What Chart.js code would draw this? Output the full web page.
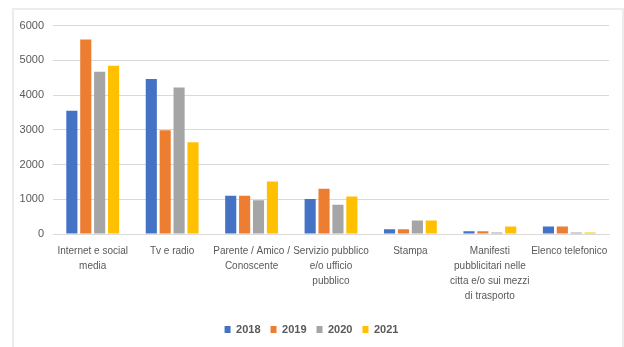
<!DOCTYPE html>
<html lang="it">
<head>
    <meta charset="UTF-8">
    <title>Canali di informazione 2018-2021</title>
    <style>
        body {
            margin: 0;
            background: #fff;
        }
        .chart-box {
            position: absolute;
            left: 12px;
            top: 8px;
            width: 608px;
            height: 345px;
            border: 2px solid #ececec;
        }
    </style>
</head>
<body>
    <div class="chart-box">
        <canvas id="myChart"></canvas>
    </div>

    <script src="https://cdn.jsdelivr.net/npm/chart.js@4.4.0/dist/chart.umd.min.js"></script>
    <script>
        // categorie (etichette su più righe come nel grafico originale)
        const categorie = [
            ['Internet e social', 'media'],
            'Tv e radio',
            ['Parente / Amico /', 'Conoscente'],
            ['Servizio pubblico', 'e/o ufficio', 'pubblico'],
            'Stampa',
            ['Manifesti', 'pubblicitari nelle', 'citta e/o sui mezzi', 'di trasporto'],
            'Elenco telefonico'
        ];
        const anni = ['2018', '2019', '2020', '2021'];
        const v2018 = [3550, 4460, 1100, 1010, 140, 80, 215];
        const v2019 = [5600, 2990, 1100, 1300, 140, 80, 215];
        const v2020 = [4670, 4220, 975, 840, 390, 40, 40];
        const v2021 = [4845, 2645, 1515, 1080, 390, 215, 40];
        const colori = ['#4472C4', '#ED7D31', '#A5A5A5', '#FFC000'];

        const serie = [v2018, v2019, v2020, v2021];
        const font = "'Liberation Sans', Arial, sans-serif";

        const ctx = document.getElementById('myChart');
        new Chart(ctx, {
            type: 'bar',
            data: {
                labels: categorie,
                datasets: serie.map((d, i) => ({
                    label: anni[i],
                    data: d,
                    backgroundColor: colori[i],
                    borderWidth: 0,
                    categoryPercentage: 0.7,
                    barPercentage: 0.8
                }))
            },
            options: {
                responsive: true,
                maintainAspectRatio: false,
                animation: false,
                layout: {
                    padding: { left: 0, right: 13, top: 12, bottom: 10 }
                },
                plugins: {
                    tooltip: { enabled: false },
                    legend: {
                        position: 'bottom',
                        labels: {
                            boxWidth: 6,
                            boxHeight: 7,
                            padding: 10,
                            color: '#595959',
                            font: { family: font, size: 11, weight: 'bold' }
                        }
                    }
                },
                scales: {
                    x: {
                        grid: { display: false },
                        border: { color: '#d9d9d9' },
                        afterFit: scale => { scale.height += 8; },
                        ticks: {
                            color: '#595959',
                            maxRotation: 0,
                            autoSkip: false,
                            padding: 2,
                            font: { family: font, size: 10, lineHeight: 1.5 }
                        }
                    },
                    y: {
                        min: 0,
                        max: 6000,
                        grid: { color: '#d9d9d9', drawTicks: false },
                        border: { display: false },
                        afterFit: scale => { scale.width = 39; },
                        ticks: {
                            stepSize: 1000,
                            color: '#595959',
                            padding: 9,
                            font: { family: font, size: 11 },
                            callback: v => String(v)
                        }
                    }
                }
            }
        });
    </script>
</body>
</html>
